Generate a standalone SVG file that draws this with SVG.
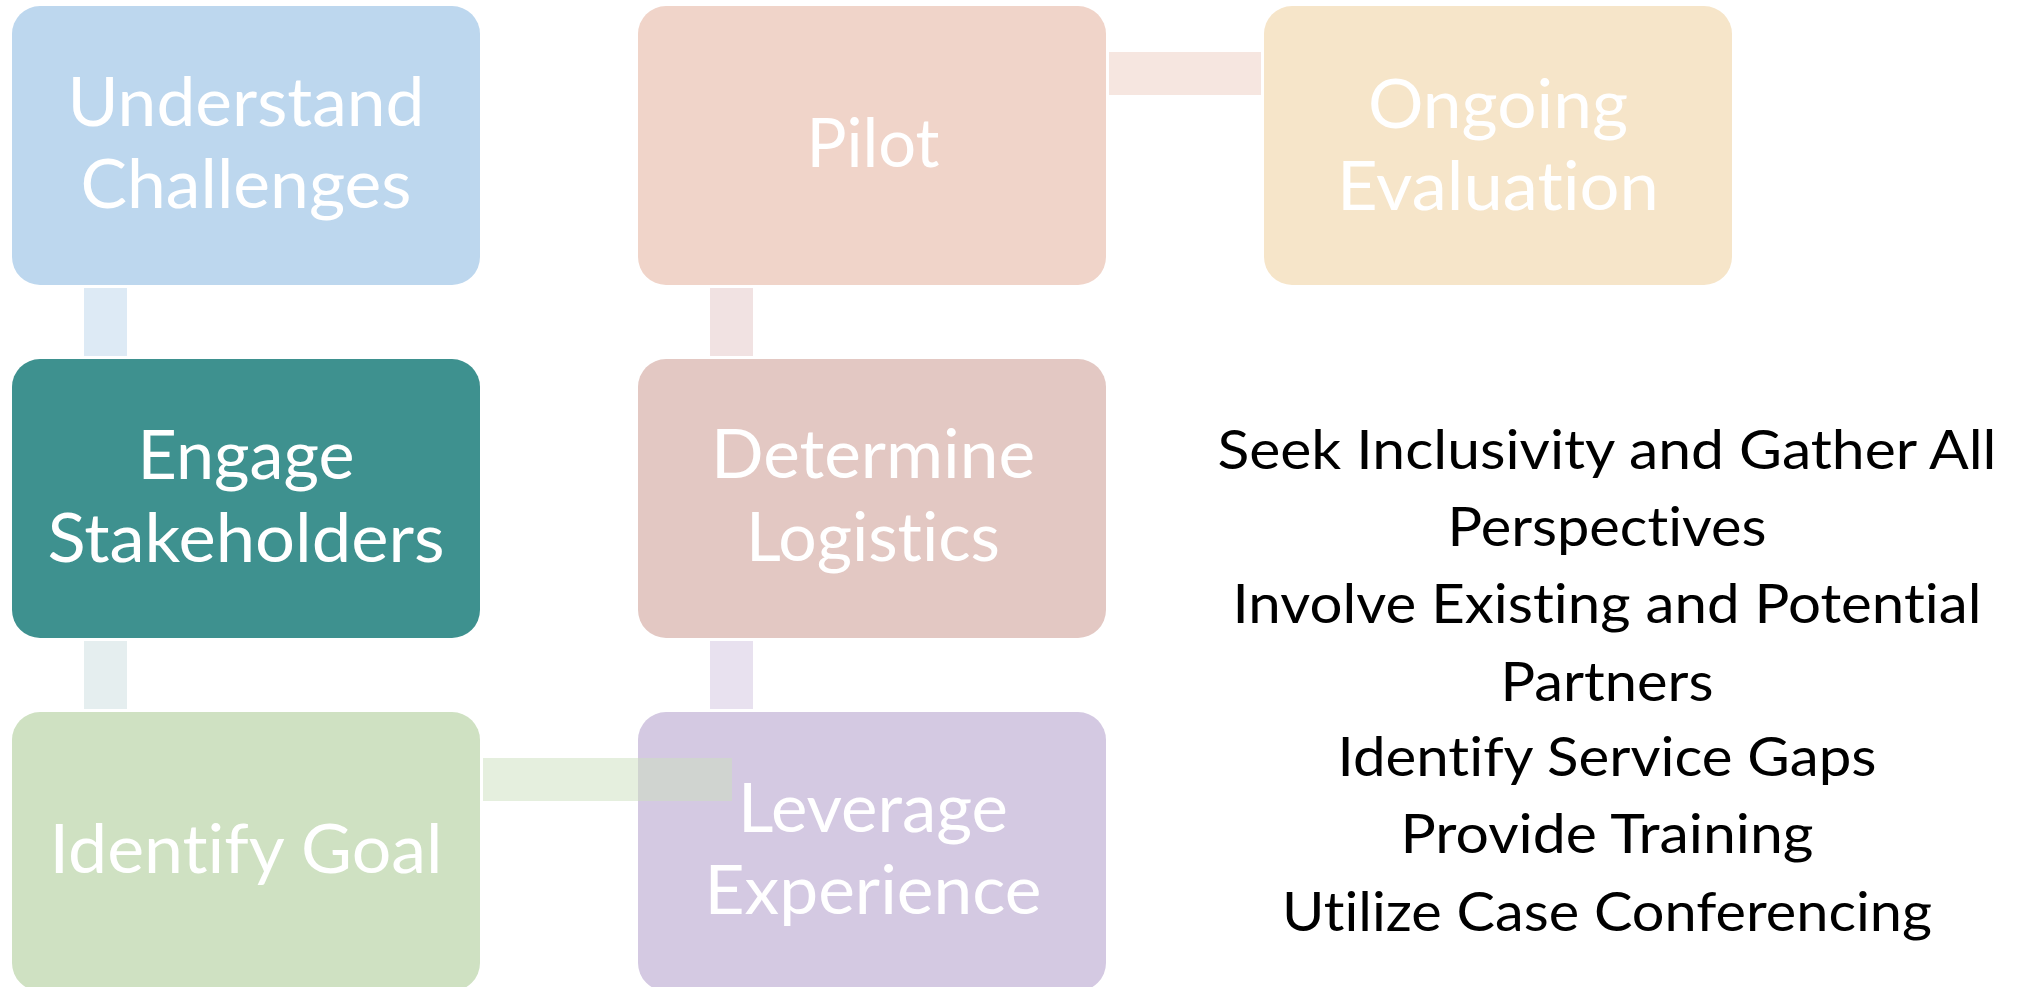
<svg xmlns="http://www.w3.org/2000/svg" width="2024" height="987" viewBox="0 0 2024 987">
<style>
.box{stroke:none}
.lbl{font-family:Lato,"Liberation Sans",sans-serif;font-size:68px;fill:#FFFFFF;text-anchor:middle;font-variant-ligatures:none;font-feature-settings:"liga" 0,"clig" 0}
.note{font-family:Lato,"Liberation Sans",sans-serif;font-size:54px;fill:#000000;text-anchor:middle;font-variant-ligatures:none;font-feature-settings:"liga" 0,"clig" 0}
</style>
<rect width="2024" height="987" fill="#FFFFFF"/>
<g id="node-understand">
<rect class="box" x="12" y="6" width="468" height="279" rx="28" fill="#BDD7EE"/>
<text class="lbl" x="246" y="126" textLength="357" lengthAdjust="spacingAndGlyphs">Understand</text>
<text class="lbl" x="246" y="208" textLength="331" lengthAdjust="spacingAndGlyphs">Challenges</text>
</g>
<g id="node-engage">
<rect class="box" x="12" y="359" width="468" height="279" rx="28" fill="#3E918F"/>
<text class="lbl" x="246" y="479" textLength="217" lengthAdjust="spacingAndGlyphs">Engage</text>
<text class="lbl" x="246" y="562" textLength="397" lengthAdjust="spacingAndGlyphs">Stakeholders</text>
</g>
<g id="node-goal">
<rect class="box" x="12" y="712" width="468" height="279" rx="28" fill="#CFE1C2"/>
<text class="lbl" x="246" y="873" textLength="393" lengthAdjust="spacingAndGlyphs">Identify Goal</text>
</g>
<g id="node-pilot">
<rect class="box" x="638" y="6" width="468" height="279" rx="28" fill="#F0D4C9"/>
<text class="lbl" x="873" y="167" textLength="133" lengthAdjust="spacingAndGlyphs">Pilot</text>
</g>
<g id="node-logistics">
<rect class="box" x="638" y="359" width="468" height="279" rx="28" fill="#E3C8C3"/>
<text class="lbl" x="873" y="478" textLength="324" lengthAdjust="spacingAndGlyphs">Determine</text>
<text class="lbl" x="873" y="561" textLength="254" lengthAdjust="spacingAndGlyphs">Logistics</text>
</g>
<g id="node-leverage">
<rect class="box" x="638" y="712" width="468" height="279" rx="28" fill="#D4C9E2"/>
<text class="lbl" x="873" y="832" textLength="270" lengthAdjust="spacingAndGlyphs">Leverage</text>
<text class="lbl" x="873" y="914" textLength="337" lengthAdjust="spacingAndGlyphs">Experience</text>
</g>
<g id="node-evaluation">
<rect class="box" x="1264" y="6" width="468" height="279" rx="28" fill="#F6E5C9"/>
<text class="lbl" x="1498" y="128" textLength="260" lengthAdjust="spacingAndGlyphs">Ongoing</text>
<text class="lbl" x="1498" y="210" textLength="322" lengthAdjust="spacingAndGlyphs">Evaluation</text>
</g>
<g id="connectors">
<rect x="84" y="288" width="43" height="68" fill="#DDEAF5"/>
<rect x="84" y="641" width="43" height="68" fill="#E5EEEF"/>
<rect x="483" y="758" width="249" height="43" fill="#CBDFBD" fill-opacity="0.5"/>
<rect x="710" y="641" width="43" height="68" fill="#E8E1EF"/>
<rect x="710" y="288" width="43" height="68" fill="#F1E2E2"/>
<rect x="1109" y="52" width="152" height="43" fill="#F6E6E0"/>
</g>
<g id="notes">
<text class="note" x="1607" y="469" textLength="779" lengthAdjust="spacingAndGlyphs">Seek Inclusivity and Gather All</text>
<text class="note" x="1607" y="546" textLength="319" lengthAdjust="spacingAndGlyphs">Perspectives</text>
<text class="note" x="1607" y="623" textLength="749" lengthAdjust="spacingAndGlyphs">Involve Existing and Potential</text>
<text class="note" x="1607" y="701" textLength="213" lengthAdjust="spacingAndGlyphs">Partners</text>
<text class="note" x="1607" y="776" textLength="539" lengthAdjust="spacingAndGlyphs">Identify Service Gaps</text>
<text class="note" x="1607" y="853" textLength="413" lengthAdjust="spacingAndGlyphs">Provide Training</text>
<text class="note" x="1607" y="931" textLength="650" lengthAdjust="spacingAndGlyphs">Utilize Case Conferencing</text>
</g>
</svg>
